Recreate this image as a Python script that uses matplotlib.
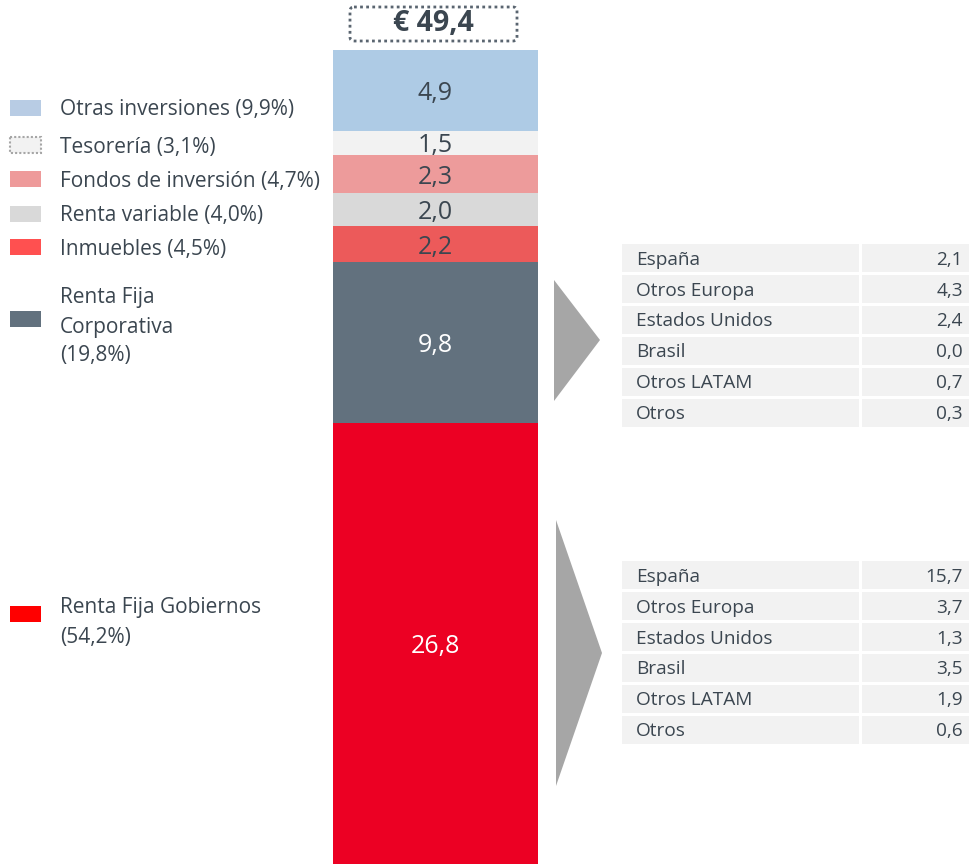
import numpy as np
import matplotlib.pyplot as plt
from matplotlib.patches import Rectangle, FancyBboxPatch, Polygon

plt.rcParams['font.family'] = ['Open Sans', 'DejaVu Sans']

# Segmentos de la barra, de abajo hacia arriba
segmentos = ["Renta Fija Gobiernos", "Renta Fija Corporativa", "Inmuebles",
             "Renta variable", "Fondos de inversión", "Tesorería", "Otras inversiones"]
valores = [26.8, 9.8, 2.2, 2.0, 2.3, 1.5, 4.9]
etiquetas_leyenda = ["Renta Fija Gobiernos\n(54,2%)", "Renta Fija\nCorporativa\n(19,8%)",
                     "Inmuebles (4,5%)", "Renta variable (4,0%)", "Fondos de inversión (4,7%)",
                     "Tesorería (3,1%)", "Otras inversiones (9,9%)"]
colores_barra = ["#EC0023", "#62717E", "#EC5A5A", "#D9D9D9", "#ED9B9B", "#F2F2F2", "#AECBE5"]
colores_leyenda = ["#FF0000", "#62717E", "#FF5050", "#D9D9D9", "#EE9A9A", "#F2F2F2", "#B8CCE4"]
total = "€ 49,4"

# Desglose por zona geográfica
paises = ["España", "Otros Europa", "Estados Unidos", "Brasil", "Otros LATAM", "Otros"]
corporativa = [2.1, 4.3, 2.4, 0.0, 0.7, 0.3]
gobiernos = [15.7, 3.7, 1.3, 3.5, 1.9, 0.6]

txt = "#3B4650"

fig = plt.figure(figsize=(9.69, 8.64), dpi=100)

# capa de fondo en pixeles para leyenda, tablas y flechas
ax0 = fig.add_axes([0, 0, 1, 1])
ax0.set_xlim(0, 969)
ax0.set_ylim(864, 0)
ax0.axis('off')

# barra apilada
ax = fig.add_axes([333 / 969, 0, 205 / 969, 814 / 864])
bases = np.concatenate([[0], np.cumsum(valores)[:-1]])
ax.bar(0, valores, bottom=bases, width=1, color=colores_barra)
ax.set_xlim(-0.5, 0.5)
ax.set_ylim(0, sum(valores))
ax.axis('off')
for i, (v, b) in enumerate(zip(valores, bases)):
    c = "white" if i < 2 else txt
    ax.annotate(f"{v:.1f}".replace('.', ','), (0, b + v / 2), xytext=(0, -3),
                textcoords='offset pixels', ha='center', va='center', fontsize=18, color=c)

# total
caja = FancyBboxPatch((350, 7), 167, 34, boxstyle="round,pad=0,rounding_size=4",
                      fc='white', ec='#5A6570', lw=2, ls=(0, (1, 1.2)))
ax0.add_patch(caja)
ax0.text(433.5, 23.5, total, ha='center', va='center', fontsize=20.5, fontweight='bold', color=txt)

# leyenda (centro del cuadro, primera linea de texto)
pos_leyenda = [(614, 608), (319, 298), (247, 249.5), (214, 215.5), (179, 181.5), (145, 147.5), (108, 109.5)]
for i, (py, ty) in enumerate(pos_leyenda):
    if i == 5:
        ax0.add_patch(Rectangle((10, py - 8), 31, 16, fc=colores_leyenda[i], ec='#A6A6A6',
                                lw=1.5, ls=(0, (1, 1))))
    else:
        ax0.add_patch(Rectangle((10, py - 8), 31, 16, fc=colores_leyenda[i], ec='none'))
    for j, linea in enumerate(etiquetas_leyenda[i].split('\n')):
        ax0.text(60, ty + j * 29, linea, ha='left', va='center', fontsize=15, color=txt)

# flechas
ax0.add_patch(Polygon([(554, 280), (600, 340), (554, 401)], closed=True, fc='#A6A6A6', ec='none'))
ax0.add_patch(Polygon([(556, 520), (602, 653), (556, 786)], closed=True, fc='#A6A6A6', ec='none'))


def tabla(top, datos):
    paso = 30.9
    for k, (p, v) in enumerate(zip(paises, datos)):
        y = top + k * paso
        ax0.add_patch(Rectangle((622, y), 237, paso - 2.5, fc='#F2F2F2', ec='none'))
        ax0.add_patch(Rectangle((862, y), 107, paso - 2.5, fc='#F2F2F2', ec='none'))
        yc = y + (paso - 2.5) / 2 + 1.5
        ax0.text(636, yc, p, ha='left', va='center', fontsize=13.7, color=txt)
        ax0.text(963, yc, f"{v:.1f}".replace('.', ','), ha='right', va='center',
                 fontsize=13.7, color=txt)


tabla(244, corporativa)
tabla(561, gobiernos)

fig.savefig('out.png', dpi=100)
